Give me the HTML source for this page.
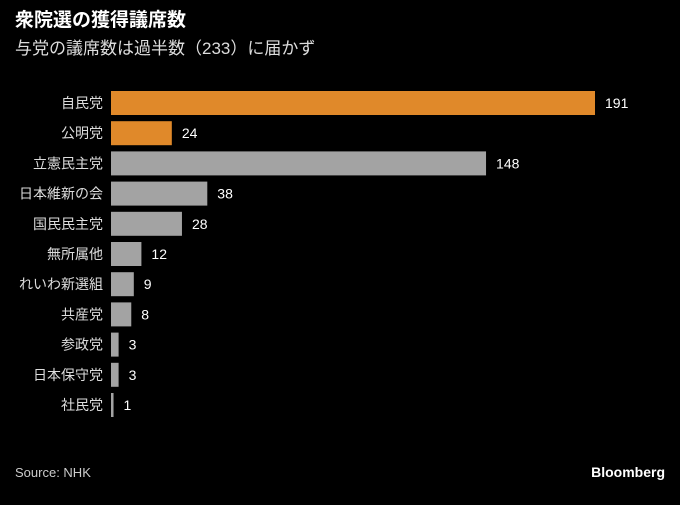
<!DOCTYPE html>
<html><head><meta charset="utf-8"><style>
body{margin:0;background:#000;}
svg text{font-family:"Liberation Sans","Noto Sans CJK JP",sans-serif;}
</style></head><body>
<svg width="680" height="500" xmlns="http://www.w3.org/2000/svg">
<rect width="680" height="500" fill="#000"/>
<text x="15" y="26" fill="#fff" font-size="19" font-weight="bold">衆院選の獲得議席数</text>
<text x="15" y="54" fill="#ddd" font-size="17">与党の議席数は過半数（233）に届かず</text>
<g id="bars"></g>
<text x="15" y="477" fill="#ccc" font-size="13">Source: NHK</text>
<text x="665" y="477" fill="#fff" font-size="14" font-weight="bold" text-anchor="end">Bloomberg</text>
</svg>
<script>
const categories=["自民党","公明党","立憲民主党","日本維新の会","国民民主党","無所属他","れいわ新選組","共産党","参政党","日本保守党","社民党"];
const seats=[191,24,148,38,28,12,9,8,3,3,1];
const ruling=[true,true,false,false,false,false,false,false,false,false,false];
const x0=111,xScale=v=>x0+v*(595-111)/191;
const rowY=i=>91+i*30.2,bh=24;
const g=document.getElementById('bars');
const NS="http://www.w3.org/2000/svg";
categories.forEach((c,i)=>{
  const y=rowY(i);
  const r=document.createElementNS(NS,'rect');
  
  
  r.setAttribute('x',x0);r.setAttribute('y',y);
  r.setAttribute('width',Math.max(2,xScale(seats[i])-x0));r.setAttribute('height',bh);
  r.setAttribute('fill',ruling[i]?'#e0892a':'#a3a3a3');
  g.appendChild(r);
  const l=document.createElementNS(NS,'text');
  
  
  l.setAttribute('x',103);l.setAttribute('y',y+bh/2+5);
  l.setAttribute('text-anchor','end');l.setAttribute('fill','#ddd');l.setAttribute('font-size','14');
  l.textContent=c;g.appendChild(l);
  const v=document.createElementNS(NS,'text');
  
  
  v.setAttribute('x',Math.max(x0+2,xScale(seats[i]))+10);v.setAttribute('y',y+bh/2+5);
  v.setAttribute('fill','#fff');v.setAttribute('font-size','14');
  v.textContent=seats[i];g.appendChild(v);
});
</script>
</body></html>
